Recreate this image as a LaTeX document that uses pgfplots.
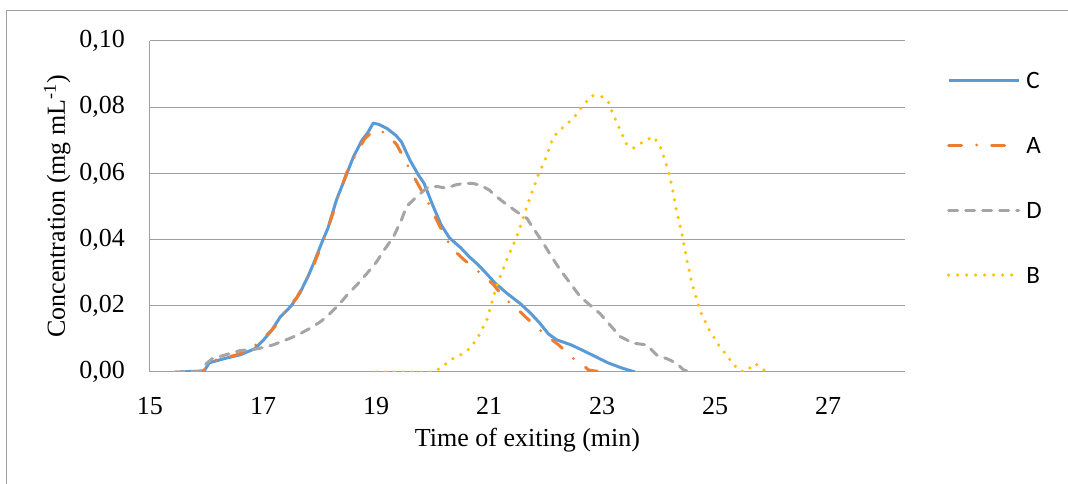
\documentclass[border=0pt]{standalone}
\usepackage{fontspec}
\setmainfont{Liberation Serif}
\newfontfamily\calibri{Carlito}
\usepackage{pgfplots}
\pgfplotsset{compat=1.18}
\definecolor{cC}{HTML}{5B9BD5}
\definecolor{cA}{HTML}{ED7D31}
\definecolor{cD}{HTML}{A5A5A5}
\definecolor{cB}{HTML}{FFC000}
\begin{document}
\begin{tikzpicture}
\begin{axis}[
  at={(0pt,0pt)}, anchor=south west,
  scale only axis, width=755pt, height=331pt,
  xmin=15, xmax=28.36, ymin=0, ymax=0.1,
  xtick={15,17,19,21,23,25,27},
  ytick={0,0.02,0.04,0.06,0.08,0.1},
  major tick length=0pt,
  axis x line*=bottom, axis y line*=left,
  axis line style={draw=gray!75, line width=1pt, -},
  ymajorgrids, major grid style={draw=gray!75, line width=1pt},
  /pgf/number format/assume math mode=true,
  tick label style={font=\fontsize{26}{30}\selectfont, inner sep=0pt},
  yticklabel style={anchor=east, xshift=-25pt, /pgf/number format/.cd, fixed, fixed zerofill, precision=2, use comma},
  xticklabel style={anchor=north, yshift=-25pt},
  xlabel={Time of exiting (min)},
  ylabel={Concentration (mg mL\textsuperscript{-1})},
  every axis x label/.style={at={(axis description cs:0.5,-0.205)}, anchor=center, font=\fontsize{26}{30}\selectfont},
  every axis y label/.style={at={(axis description cs:-0.123,0.5)}, anchor=center, rotate=90, font=\fontsize{26}{30}\selectfont},
  legend image code/.code={\draw[#1] (0pt,0pt) -- (70pt,0pt);},
  legend cell align=left,
  legend style={draw=none, fill=none, inner sep=0pt, outer sep=0pt, row sep=49pt,
    font=\calibri\fontsize{25}{25}\selectfont,
    at={(axis description cs:1.0556,0.5876)}, anchor=west,
    nodes={inner sep=0pt, text height=16pt, text depth=0pt},
    /tikz/every odd column/.append style={column sep=6pt}},
]
\addplot[cC, line width=3pt, line join=round] table {
15.55 0
15.75 0.0002
15.95 0.0001
16.05 0.0028
16.35 0.0042
16.6 0.0052
16.85 0.0070
17.0 0.0095
17.15 0.0125
17.3 0.0165
17.5 0.0200
17.65 0.0238
17.8 0.0290
17.9 0.0330
18.05 0.0395
18.15 0.0435
18.3 0.0520
18.45 0.0585
18.6 0.0650
18.75 0.0700
18.85 0.0722
18.95 0.0752
19.05 0.0748
19.2 0.0735
19.35 0.0715
19.45 0.0695
19.6 0.0640
19.75 0.0595
19.85 0.0570
20.0 0.0505
20.15 0.0445
20.3 0.0405
20.5 0.0375
20.65 0.0348
20.8 0.0325
20.95 0.0298
21.1 0.0270
21.3 0.0240
21.45 0.0220
21.55 0.0207
21.75 0.0175
21.9 0.0147
22.05 0.0115
22.2 0.0097
22.45 0.0082
22.65 0.0066
22.9 0.0045
23.1 0.0028
23.35 0.0012
23.58 0.0
};
\addlegendentry{C}
\addplot[cA, line width=3pt, line cap=round, line join=round, dash pattern=on 13pt off 15pt on 0pt off 15pt] table {
15.75 0
15.95 0.0004
16.05 0.0025
16.2 0.0040
16.5 0.0050
16.75 0.0065
17.0 0.0100
17.2 0.0135
17.4 0.0185
17.6 0.0225
17.8 0.0290
17.9 0.0325
18.05 0.0390
18.2 0.0460
18.35 0.0540
18.5 0.0610
18.65 0.0660
18.8 0.0705
18.95 0.0728
19.05 0.0731
19.2 0.0718
19.37 0.0686
19.54 0.0630
19.75 0.0565
19.96 0.0500
20.13 0.0439
20.34 0.0374
20.55 0.0340
20.78 0.0308
20.95 0.0285
21.08 0.0263
21.3 0.0218
21.46 0.0197
21.64 0.0167
21.9 0.0127
22.05 0.0105
22.23 0.0082
22.49 0.0041
22.6 0.0030
22.76 0.0006
23.0 0.0
};
\addlegendentry{A}
\addplot[cD, line width=3pt, line cap=round, line join=round, dash pattern=on 9pt off 8pt] table {
15.44 0
15.7 0.0002
15.88 0.0002
16.0 0.0026
16.1 0.0040
16.42 0.0056
16.6 0.0065
16.83 0.0068
17.0 0.0074
17.18 0.0082
17.48 0.0102
17.65 0.0115
17.83 0.0132
18.0 0.0150
18.13 0.0167
18.36 0.0207
18.5 0.0235
18.66 0.0263
18.85 0.0300
19.01 0.0333
19.15 0.0370
19.31 0.0409
19.45 0.0460
19.54 0.0500
19.72 0.0530
19.93 0.0560
20.1 0.0560
20.25 0.0555
20.4 0.0565
20.55 0.0570
20.7 0.0570
20.84 0.0565
21.0 0.0550
21.13 0.0530
21.25 0.0514
21.49 0.0484
21.67 0.0464
21.8 0.0430
21.96 0.0389
22.1 0.0350
22.26 0.0308
22.45 0.0265
22.61 0.0228
22.8 0.0200
22.96 0.0177
23.15 0.0140
23.32 0.0107
23.55 0.0087
23.79 0.0082
23.97 0.0051
24.15 0.0040
24.32 0.0026
24.45 0.0005
24.59 0
};
\addlegendentry{D}
\addplot[cB, line width=3.5pt, line cap=round, dash pattern=on 0pt off 9pt] table {
19.0 0
20.0 0
20.15 0.0012
20.31 0.0036
20.6 0.0061
20.78 0.0097
20.96 0.0157
21.13 0.0258
21.31 0.0338
21.49 0.0409
21.58 0.0454
21.73 0.0530
21.87 0.0595
21.99 0.0640
22.14 0.0711
22.32 0.0741
22.49 0.0766
22.67 0.0807
22.82 0.0835
22.99 0.0832
23.11 0.0817
23.2 0.0776
23.32 0.0731
23.44 0.0686
23.55 0.0676
23.73 0.0696
23.91 0.0711
24.03 0.0681
24.15 0.0620
24.24 0.0560
24.32 0.0484
24.41 0.0419
24.5 0.0338
24.59 0.0268
24.73 0.0187
24.88 0.0132
25.06 0.0082
25.27 0.0036
25.41 0.0006
25.53 0
25.71 0.0026
25.91 0
};
\addlegendentry{B}
\end{axis}
\draw[gray!75, line width=1pt] (-143pt,-130pt) -- (-143pt,361pt) -- (940pt,361pt);
\pgfresetboundingbox
\useasboundingbox (-150pt,-112pt) rectangle (918pt,372pt);
\end{tikzpicture}
\end{document}
